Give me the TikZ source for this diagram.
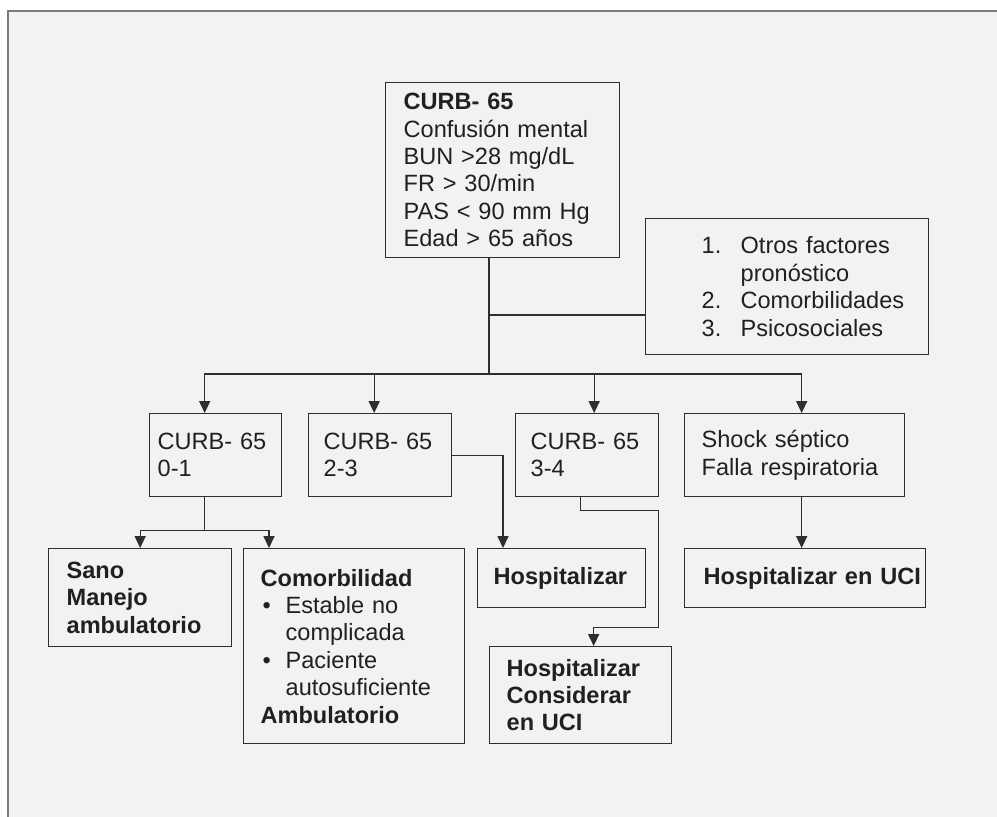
\documentclass[tikz,border=0pt]{standalone}
\usepackage{fontspec}
\setmainfont{Liberation Sans}
\usetikzlibrary{arrows.meta}

\newlength\pxu
\setlength\pxu{0.02cm}
\newcommand{\numlab}[1]{\hspace*{48\pxu}\makebox[39\pxu][l]{#1}}
\newcommand{\blt}{\makebox[25\pxu][l]{\hspace{2\pxu}\textbullet}}

\definecolor{bgc}{HTML}{F1F2F4}
\definecolor{linec}{HTML}{2E2E2E}
\definecolor{framec}{HTML}{7A7A7A}
\definecolor{txt}{HTML}{231F20}

\begin{document}
\begin{tikzpicture}[
    x=0.02cm, y=-0.02cm,
    font=\fontsize{13.4pt}{15.6pt}\selectfont,
    block/.style={rectangle, draw=linec, line width=0.75pt, text=txt, anchor=north west, align=left, inner ysep=0pt},
    wire/.style={draw=linec, line width=0.75pt},
    arrow/.style={wire, -{Triangle[length=6.8pt, width=6.3pt]}}
]
\useasboundingbox (0,0) rectangle (997,817);
\fill[white] (0,0) rectangle (997,817);
\fill[bgc] (8,11) rectangle (997,817);
\draw[framec, line width=0.85pt] (8,817) -- (8,11) -- (997,11);

% CURB-65 score and other factors
\node[block, text width=198\pxu, inner xsep=18\pxu, minimum height=175\pxu] (curb) at (385,82) {\textbf{CURB- 65}\\Confusión mental\\BUN >28 mg/dL\\FR > 30/min\\PAS < 90 mm Hg\\Edad > 65 años};
\node[block, text width=267\pxu, inner xsep=8\pxu, minimum height=136\pxu] (factores) at (645,218) {\numlab{1.}Otros factores\\\numlab{}pronóstico\\\numlab{2.}Comorbilidades\\\numlab{3.}Psicosociales};

% score groups
\node[block, text width=116\pxu, inner xsep=8\pxu, minimum height=83\pxu] (c01) at (149,413) {CURB- 65\\0-1};
\node[block, text width=113\pxu, inner xsep=15\pxu, minimum height=83\pxu] (c23) at (308,413) {CURB- 65\\2-3};
\node[block, text width=113\pxu, inner xsep=15\pxu, minimum height=83\pxu] (c34) at (515,413) {CURB- 65\\3-4};
\node[block, text width=186\pxu, inner xsep=17\pxu, minimum height=83\pxu] (shock) at (684,413) {Shock séptico\\Falla respiratoria};

% decisions
\node[block, text width=147\pxu, inner xsep=18\pxu, minimum height=98\pxu] (sano) at (48,548) {\bfseries Sano\\Manejo\\ambulatorio};
\node[block, text width=187\pxu, inner xsep=17\pxu, minimum height=195\pxu] (comorb) at (243,548) {\textbf{Comorbilidad}\\\blt Estable no\\\hspace*{25\pxu}complicada\\\blt Paciente\\\hspace*{25\pxu}autosuficiente\\\textbf{Ambulatorio}};
\node[block, text width=136\pxu, inner xsep=16\pxu, minimum height=59\pxu] (hosp) at (477,548) {\bfseries Hospitalizar};
\node[block, text width=148\pxu, inner xsep=17\pxu, minimum height=97\pxu] (hcons) at (489,646) {\bfseries Hospitalizar\\Considerar\\en UCI};
\node[block, text width=203\pxu, inner xsep=19\pxu, minimum height=59\pxu] (uci) at (684,548) {\bfseries\mbox{Hospitalizar en UCI}};

% connectors
\coordinate (bus) at (489,374);
\coordinate (jn) at (489,315);
\draw[wire] (curb.south -| bus) -- (bus);
\draw[wire] (jn) -- (jn -| factores.west);
\draw[arrow] (bus) -| ([xshift=-11\pxu]c01.north);
\draw[arrow] (bus) -| ([xshift=-6\pxu]c23.north);
\draw[arrow] (bus) -| ([xshift=7\pxu]c34.north);
\draw[arrow] (bus) -| ([xshift=7\pxu]shock.north);

\draw[wire] ([xshift=-11\pxu]c01.south) -- ++(0,33) coordinate (fork);
\draw[arrow] (fork) -| (sano.north);
\draw[arrow] (fork) -| ([xshift=26\pxu]comorb.north west);
\draw[arrow] (c23.east) -| ([xshift=26\pxu]hosp.north west);
\draw[arrow] ([xshift=-7\pxu]c34.south) -- ++(0,13) -| ++(78,117) -| ([xshift=13\pxu]hcons.north);
\draw[arrow] ([xshift=7\pxu]shock.south) coordinate (s4) -- (s4 |- uci.north);

\end{tikzpicture}
\end{document}
